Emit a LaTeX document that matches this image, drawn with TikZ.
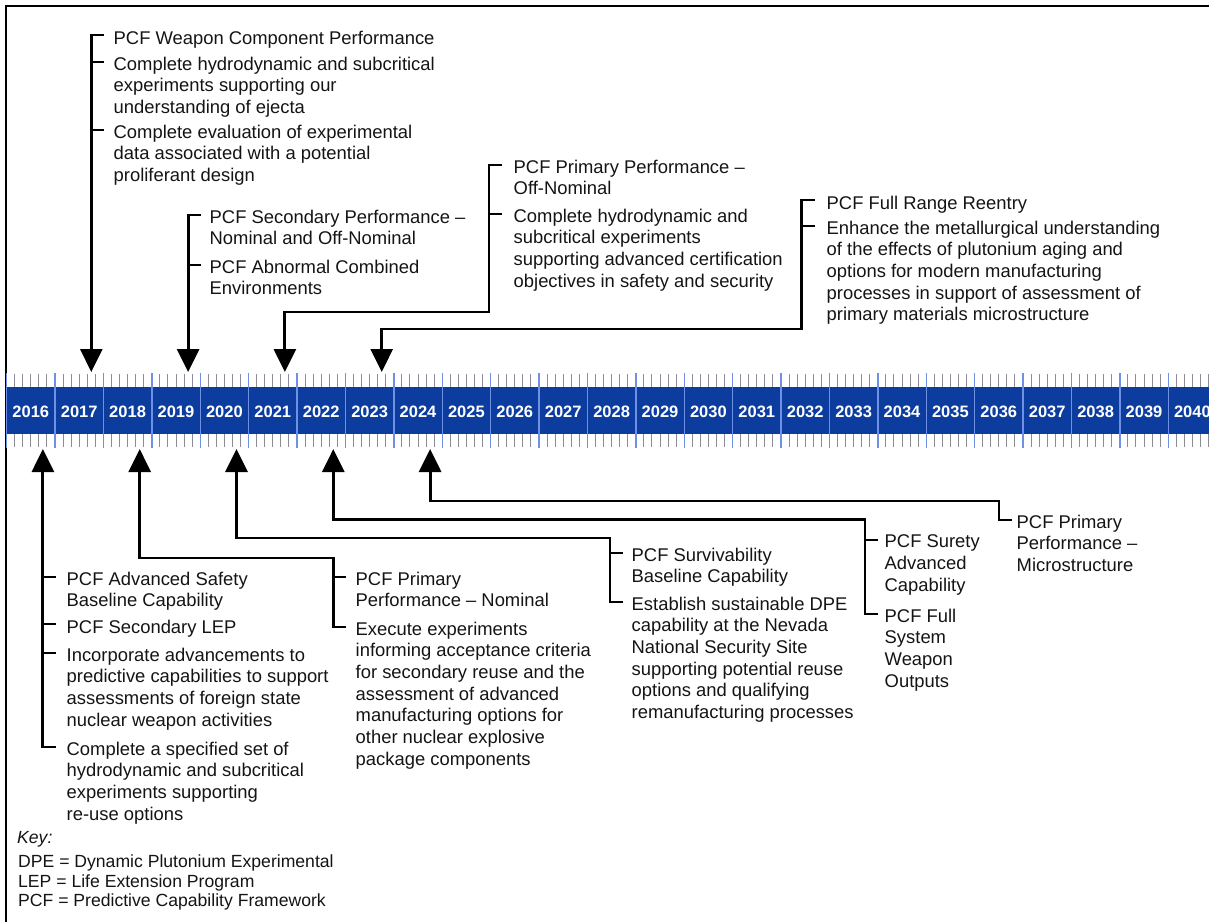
\documentclass[tikz,border=0pt]{standalone}
\usepackage{fontspec}
\setmainfont{Liberation Sans}
\usetikzlibrary{arrows.meta}
\definecolor{bandblue}{RGB}{12,60,158}
\definecolor{sepblue}{RGB}{110,145,230}
\definecolor{tickgray}{RGB}{140,140,150}
\definecolor{inkblack}{RGB}{20,20,20}
\begin{document}
\begin{tikzpicture}[x=1pt,y=-1pt,
  conn/.style={line width=2.9pt,draw=black},
  tipped/.style={conn,-{Triangle[length=23pt,width=22pt]}},
  item/.style={anchor=north west,inner sep=0pt,align=left,text=inkblack,
    font=\fontsize{18.4}{21.7}\selectfont,execute at begin node=\strut,yshift=8.45pt},
  keytext/.style={anchor=north west,inner sep=0pt,align=left,text=inkblack,
    font=\fontsize{17.6}{19.2}\selectfont,execute at begin node=\strut,yshift=7.14pt},
  yearlab/.style={text=white,font=\bfseries\fontsize{16.5}{18}\selectfont,inner sep=0pt}]

\useasboundingbox (0,0) rectangle (1209,922);
\clip (0,0) rectangle (1209,922);

% frame
\draw[line width=2.3pt] (6,922) -- (6,6) -- (1209,6);

% timeline band with year cells, separators and minor ticks
\fill[bandblue] (6.6,386.5) rectangle (1209,434);
\foreach \i in {0,...,24}{
  \pgfmathtruncatemacro\yr{2016+\i}
  \node[yearlab] (y\yr) at ({6.6+(\i+0.5)*48.4},411.5) {\yr};
  \foreach \k in {1,...,5}{
    \draw[tickgray,line width=1pt] ({6.6+(\i+\k/6)*48.4},374) -- ++(0,12.5)
                                    ({6.6+(\i+\k/6)*48.4},434) -- ++(0,13);
  }
  \draw[sepblue,line width=1.4pt] ({6.6+\i*48.4},373) -- ++(0,75);
}

% arrow tips on the timeline
\coordinate (tip2017) at (91.3,372);
\coordinate (tip2019) at (188.1,372);
\coordinate (tip2021) at (284.9,372);
\coordinate (tip2023) at (381.7,372);
\coordinate (tip2016) at (42.9,449);
\coordinate (tip2018) at (139.7,449);
\coordinate (tip2020) at (236.5,449);
\coordinate (tip2022) at (333.3,449);
\coordinate (tip2024) at (430.1,449);

% elbow points of the routed connectors
\coordinate (cbend) at (489,312);
\coordinate (dbend) at (801.7,329);
\coordinate (fbend) at (333.3,558);
\coordinate (gbend) at (610,538);
\coordinate (hbend) at (865,519.5);
\coordinate (ibend) at (999,501);

% ---- upper milestones ----
\node[item] (A1) at (113.5,38) {PCF Weapon Component Performance};
\node[item] (A2) at (113.5,65) {Complete hydrodynamic and subcritical\\experiments supporting our\\understanding of ejecta};
\node[item] (A3) at (113.5,133) {Complete evaluation of experimental\\data associated with a potential\\proliferant design};
\draw[tipped] ([shift={(-9.2,5.45)}]A1.north west) -| (tip2017);
\draw[conn] ([shift={(-9.2,5.45)}]A2.north west) -- ++(-13,0);
\draw[conn] ([shift={(-9.2,5.45)}]A3.north west) -- ++(-13,0);

\node[item] (B1) at (209.5,218) {PCF Secondary Performance –\\Nominal and Off-Nominal};
\node[item] (B2) at (209.5,268) {PCF Abnormal Combined\\Environments};
\draw[tipped] ([shift={(-8.4,5.45)}]B1.north west) -| (tip2019);
\draw[conn] ([shift={(-8.4,5.45)}]B2.north west) -- ++(-13,0);

\node[item] (C1) at (513.5,168) {PCF Primary Performance –\\Off-Nominal};
\node[item] (C2) at (513.5,217) {Complete hydrodynamic and\\subcritical experiments\\supporting advanced certification\\objectives in safety and security};
\draw[tipped] ([shift={(-11.5,5.45)}]C1.north west) -| (cbend) -| (tip2021);
\draw[conn] ([shift={(-11.5,5.45)}]C2.north west) -- ++(-13,0);

\node[item] (D1) at (826.5,203) {PCF Full Range Reentry};
\node[item] (D2) at (826.5,229) {Enhance the metallurgical understanding\\of the effects of plutonium aging and\\options for modern manufacturing\\processes in support of assessment of\\primary materials microstructure};
\draw[tipped] ([shift={(-11.8,5.45)}]D1.north west) -| (dbend) -| (tip2023);
\draw[conn] ([shift={(-11.8,5.45)}]D2.north west) -- ++(-13,0);

% ---- lower milestones ----
\node[item] (E1) at (66.5,580) {PCF Advanced Safety\\Baseline Capability};
\node[item] (E2) at (66.5,627) {PCF Secondary LEP};
\node[item] (E3) at (66.5,656) {Incorporate advancements to\\predictive capabilities to support\\assessments of foreign state\\nuclear weapon activities};
\node[item] (E4) at (66.5,750) {Complete a specified set of\\hydrodynamic and subcritical\\experiments supporting\\re-use options};
\draw[tipped] ([shift={(-10.6,5.45)}]E4.north west) -| (tip2016);
\draw[conn] ([shift={(-10.6,5.45)}]E1.north west) -- ++(-13,0);
\draw[conn] ([shift={(-10.6,5.45)}]E2.north west) -- ++(-13,0);
\draw[conn] ([shift={(-10.6,5.45)}]E3.north west) -- ++(-13,0);

\node[item] (F1) at (355.5,580) {PCF Primary\\Performance – Nominal};
\node[item] (F2) at (355.5,630) {Execute experiments\\informing acceptance criteria\\for secondary reuse and the\\assessment of advanced\\manufacturing options for\\other nuclear explosive\\package components};
\draw[tipped] ([shift={(-9.2,5.45)}]F2.north west) -| (fbend) -| (tip2018);
\draw[conn] ([shift={(-9.2,5.45)}]F1.north west) -- ++(-13,0);

\node[item] (G1) at (631.5,556) {PCF Survivability\\Baseline Capability};
\node[item] (G2) at (631.5,605) {Establish sustainable DPE\\capability at the Nevada\\National Security Site\\supporting potential reuse\\options and qualifying\\remanufacturing processes};
\draw[tipped] ([shift={(-8.5,5.45)}]G2.north west) -| (gbend) -| (tip2020);
\draw[conn] ([shift={(-8.5,5.45)}]G1.north west) -- ++(-13,0);

\node[item] (H1) at (884.5,543) {PCF Surety\\Advanced\\Capability};
\node[item] (H2) at (884.5,617) {PCF Full\\System\\Weapon\\Outputs};
\draw[tipped] ([shift={(-6.5,5.45)}]H2.north west) -| (hbend) -| (tip2022);
\draw[conn] ([shift={(-6.5,5.45)}]H1.north west) -- ++(-13,0);

\node[item] (I1) at (1016.5,523) {PCF Primary\\Performance –\\Microstructure};
\draw[tipped] ([shift={(-4.5,5.45)}]I1.north west) -| (ibend) -| (tip2024);

% ---- key ----
\node[keytext] (keyhead) at (17,837) {\itshape Key:};
\node[keytext] (keylist) at (18,862) {DPE = Dynamic Plutonium Experimental\\LEP = Life Extension Program\\PCF = Predictive Capability Framework};
\end{tikzpicture}
\end{document}
